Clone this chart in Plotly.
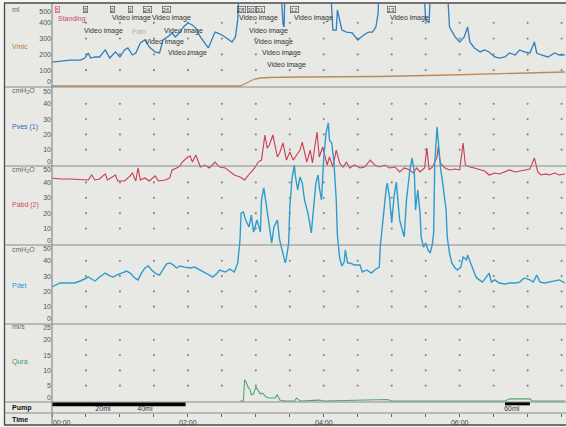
import numpy as np
import plotly.graph_objects as go

FONT = "Liberation Sans, Arial, sans-serif"

# ---------------- data (time in seconds) ----------------
vmic_samples = [(0, 0), (166, 0), (170, 12.7), (175, 31.6), (179, 44.3), (184, 50.6),
                (192, 53.8), (219, 57), (289, 60), (351, 69.6), (395, 76), (453, 88.6)]

pves_samples = [(0, 67.3), (7, 68), (16, 68.6), (25, 68.6), (29, 69.9), (32, 73.2), (34, 69.9), (38, 70.6),
                (42, 70.6), (47, 75.2), (51, 69.9), (56, 73.9), (60, 70.6), (64, 75.2), (67, 76.5), (71, 71.9),
                (74, 73.2), (78, 79.7), (82, 81.7), (86, 77.1), (91, 73.9), (95, 73.2), (98, 81.7), (102, 83.7),
                (106, 86.3), (109, 83.7), (113, 86.9), (116, 90.2), (120, 92.8), (124, 91.5), (127, 89.5),
                (131, 83.7), (135, 79.7), (138, 76.5), (141, 81.7), (144, 86.9), (146, 86.3), (150, 85),
                (154, 83), (159, 80.4), (162, 83.7), (164, 95), (166, 130), (185, 130), (201, 130), (204, 92),
                (205, 90.2), (206, 130), (225, 130), (245, 130), (248, 88.2), (251, 88.2), (252, 101.3),
                (256, 88.2), (260, 86.9), (265, 86.3), (270, 81.7), (273, 83.7), (278, 86.3), (280, 86.9),
                (283, 86.9), (286, 90.2), (288, 99.3), (289, 130), (310, 130), (327, 130), (330, 94.8),
                (333, 93), (335, 130), (348, 130), (351, 90.2), (356, 83.7), (360, 80.4), (364, 83.7),
                (367, 90.2), (369, 80.4), (373, 76.5), (378, 73.9), (382, 75.2), (386, 73.9), (391, 70.6),
                (395, 69.9), (400, 70.6), (404, 73.2), (409, 71.9), (413, 75.2), (417, 73.9), (422, 73.2),
                (426, 80.4), (428, 73.2), (432, 71.9), (438, 70.6), (444, 73.2), (448, 71.9), (453, 72)]

pabd_samples = [(0, 42.9), (7, 42.2), (16, 42.2), (25, 41.6), (32, 41.6), (35, 44.8), (38, 41.6), (42, 42.2),
                (47, 45.5), (49, 41.6), (56, 44.8), (58, 40.9), (64, 40.9), (69, 44.2), (71, 46.1), (74, 40.9),
                (76, 49.4), (78, 41.6), (82, 42.9), (86, 40.9), (91, 44.2), (94, 40.9), (100, 41.6), (104, 42.9),
                (106, 48.1), (110, 49.4), (113, 50.6), (115, 53.2), (117, 54.5), (120, 56.5), (122, 57.1),
                (124, 53.2), (127, 57.8), (131, 50), (135, 51.3), (139, 49.4), (144, 53.2), (148, 50),
                (153, 49.4), (157, 46.8), (161, 44.8), (166, 43.5), (170, 41.6), (175, 46.1), (179, 49.4),
                (182, 53.2), (185, 54.5), (188, 70.8), (190, 62.3), (192, 64.3), (195, 70.8), (199, 56.5),
                (201, 59.1), (204, 65.6), (207, 54.5), (210, 59.7), (213, 54.5), (216, 57.8), (219, 61),
                (221, 66.2), (225, 53.2), (228, 61), (230, 52.6), (234, 72.7), (236, 56.5), (239, 63),
                (243, 51.3), (245, 56.5), (248, 50), (251, 61), (254, 52.6), (257, 50), (260, 53.2),
                (263, 49.4), (267, 51.3), (272, 49.4), (276, 50), (281, 54.5), (285, 51.3), (289, 50),
                (294, 51.3), (298, 49.4), (303, 50), (307, 46.8), (311, 49.4), (316, 48.1), (319, 46.1),
                (322, 49.4), (325, 46.8), (329, 49.4), (331, 62.3), (333, 48.1), (336, 50), (340, 56.5),
                (341, 63), (343, 52.6), (347, 49.4), (351, 48.1), (356, 48.7), (360, 48.1), (363, 65.6),
                (365, 51.3), (369, 50), (373, 49.4), (378, 48.1), (382, 47.4), (386, 44.8), (391, 46.1),
                (395, 45.5), (400, 46.8), (404, 48.1), (409, 46.8), (413, 47.4), (417, 48.1), (422, 48.7),
                (426, 55.8), (429, 46.8), (432, 44.8), (436, 45.5), (439, 44.8), (444, 46.1), (448, 44.8),
                (453, 45.5)]

pdet_samples = [(0, 22.9), (4, 24.2), (7, 25.5), (11, 25.5), (16, 25.5), (20, 25.5), (25, 26.8), (29, 28.1),
                (32, 29.4), (35, 28.1), (38, 26.8), (42, 29.4), (47, 32), (51, 30.1), (54, 29.4), (57, 30.7),
                (62, 32), (66, 33.3), (69, 32), (73, 28.8), (76, 27.5), (79, 32), (82, 35.3), (85, 36.6),
                (88, 34), (91, 32), (95, 30.7), (98, 34), (101, 37.9), (104, 38.6), (107, 37.3), (110, 35.3),
                (113, 36.6), (117, 35.9), (122, 35.3), (126, 35.9), (131, 34), (135, 32.7), (139, 30.7),
                (142, 29.4), (146, 32), (148, 34), (153, 32.7), (157, 34.6), (161, 32.7), (164, 38.6),
                (166, 53.6), (167, 71.2), (169, 71.9), (171, 66.7), (174, 62.1), (176, 69.9), (178, 58.8),
                (181, 66.7), (184, 58.8), (185, 79.7), (187, 87.6), (189, 77.8), (191, 66.7), (193, 55.6),
                (194, 51.6), (196, 62.1), (199, 66.7), (201, 53.6), (204, 45.1), (206, 38.6), (207, 41.8),
                (209, 51.6), (210, 75.2), (212, 94.1), (214, 102.6), (215, 94.8), (217, 86.3), (219, 94.8),
                (221, 90.8), (223, 79.7), (226, 71.2), (229, 58.2), (230, 66.7), (233, 90.8), (235, 96.1),
                (236, 88.2), (238, 79.7), (240, 107.8), (242, 123.5), (244, 130.1), (245, 119), (247, 117),
                (249, 103.9), (251, 79.7), (252, 56.9), (254, 41.8), (256, 36.6), (258, 39.2), (259, 47.1),
                (261, 38.6), (263, 38.6), (267, 37.3), (272, 37.3), (274, 32.7), (278, 34), (282, 32),
                (285, 34), (289, 35.9), (290, 50.3), (292, 66.7), (295, 86.3), (296, 90.8), (298, 81.7),
                (300, 64.7), (302, 81.7), (304, 91.5), (305, 84.3), (307, 66.7), (310, 58.2), (311, 55.6),
                (313, 79.7), (316, 99.3), (318, 107.2), (320, 97.4), (321, 73.2), (323, 86.3), (325, 71.2),
                (326, 55.6), (328, 49), (330, 51.6), (332, 47.1), (334, 45.1), (336, 51.6), (337, 58.2),
                (338, 103.9), (340, 127.5), (341, 119), (343, 101.3), (345, 90.8), (348, 73.2), (349, 55.6),
                (351, 45.1), (353, 38.6), (356, 35.3), (358, 34), (361, 35.9), (363, 42.5), (366, 40.5),
                (367, 43.8), (370, 37.3), (373, 32), (375, 28.8), (378, 27.5), (380, 26.1), (383, 28.8),
                (386, 32), (388, 26.1), (391, 27.5), (395, 25.5), (400, 24.8), (404, 25.5), (409, 25.5),
                (413, 26.1), (417, 28.8), (422, 27.5), (425, 26.1), (428, 30.7), (431, 26.1), (435, 25.5),
                (439, 26.1), (444, 26.8), (448, 27.5), (453, 25.5)]

qura_samples = [(166, 0), (169, 0), (170, 6.9), (171, 6.5), (173, 4.6), (175, 3.6), (176, 2), (178, 2.3),
                (180, 4.6), (182, 3.3), (184, 2.3), (186, 2.6), (189, 1.3), (192, 1), (197, 1), (199, 2),
                (201, 0.3), (206, 0), (214, 0), (216, 1), (219, 0), (236, 0.3), (240, 0), (296, 0.5),
                (300, 0), (400, 0), (404, 0.7), (422, 0.7), (424, 0), (453, 0)]

pump_runs = [(0, 118), (400, 422)]
pump_mark_t = [45, 82, 406]
pump_mark_text = ["20ml", "40ml", "60ml"]

time_tick_vals = [0, 120, 240, 360]
time_tick_text = ["00:00", "02:00", "04:00", "06:00"]

# event texts: (text, time s, row pixel)
event_texts = [("Standing", 3.5, 19), ("Video image", 51, 18), ("Video image", 86.5, 18),
               ("Video image", 26.5, 31), ("Pain", 69, 31), ("Video image", 97, 31),
               ("Video image", 80, 42), ("Video image", 101, 53),
               ("Video image", 163, 18), ("Video image", 212, 18), ("Video image", 172, 31),
               ("Video image", 177, 42), ("Video image", 184, 53), ("Video image", 188, 65),
               ("Video image", 297, 18)]
event_marks = [("5", 2.6), ("3", 27), ("2", 51), ("1", 67), ("24", 80), ("26", 97),
               ("28", 163), ("30", 172), ("31", 180), ("12", 210), ("13", 296)]

# ---------------- styling / geometry ----------------
W, H = 566, 427
L, R, T, B = 52, 565, 3, 425
XMAX = 453
def fx(px): return (px - L) / (R - L)
def fy(py): return (B - py) / (B - T)
DATA_TOP, DATA_BOT = 4, 402

C_VMIC, C_PVES, C_PABD, C_PDET, C_QURA = "#c08a55", "#2f7fc0", "#cc3a50", "#2e9ccf", "#4fa66c"
GRID_C, SEP_C, TXT_C = "#8c8c8c", "#8a8a8a", "#555555"

panels = [
    dict(name="Vmic", unit="ml", color="#b87a3e", z=86, m=7, vmax=500, step=100, off=4.5, uy=9, ny=47),
    dict(name="Pves (1)", unit="cmH<sub>2</sub>O", color="#1f6fb8", z=165, m=88.5, vmax=50, step=10, off=3, uy=91, ny=127),
    dict(name="Pabd (2)", unit="cmH<sub>2</sub>O", color="#d04a5c", z=244, m=167, vmax=50, step=10, off=3, uy=170, ny=205),
    dict(name="Pdet", unit="cmH<sub>2</sub>O", color="#2a9ad2", z=322, m=245.5, vmax=50, step=10, off=3.5, uy=250, ny=285),
    dict(name="Qura", unit="ml/s", color="#3f9a5f", z=401, m=324.5, vmax=25, step=5, off=3.5, uy=326, ny=362),
]
axis_ids = ["y", "y2", "y3", "y4", "y5"]

fig = go.Figure()

# grid dots
xdots = np.arange(30, XMAX, 30)
for p, aid in zip(panels, axis_ids):
    yv = np.arange(p["step"], p["vmax"], p["step"])
    gx, gy = np.meshgrid(xdots, yv)
    fig.add_trace(go.Scatter(x=gx.ravel(), y=gy.ravel(), mode="markers", yaxis=aid,
                             marker=dict(size=2.2, color=GRID_C), hoverinfo="skip", showlegend=False))

def add_line(samples, aid, color, width=1.2):
    t, v = zip(*samples)
    fig.add_trace(go.Scatter(x=list(t), y=list(v), mode="lines", yaxis=aid,
                             line=dict(color=color, width=width), showlegend=False))

add_line(vmic_samples, "y", C_VMIC, 1.3)
add_line(pabd_samples, "y3", C_PABD, 1.1)
add_line(pves_samples, "y2", C_PVES, 1.3)
add_line(pdet_samples, "y4", C_PDET, 1.4)
add_line(qura_samples, "y5", C_QURA, 1.1)

# pump row
for (a, b), lvl in zip(pump_runs, [0.8, 0.88]):
    fig.add_trace(go.Scatter(x=[a, b], y=[lvl, lvl], mode="lines", yaxis="y6",
                             line=dict(color="#000000", width=4), showlegend=False))
fig.add_trace(go.Scatter(x=pump_mark_t, y=[0.3] * len(pump_mark_t), mode="text", yaxis="y6",
                         text=pump_mark_text, textfont=dict(size=7, color="#333", family=FONT),
                         cliponaxis=False, showlegend=False))

layout_axes = {}
for i, (p, aid) in enumerate(zip(panels, axis_ids)):
    s = (p["z"] - p["m"]) / p["vmax"]
    lo = -(DATA_BOT - p["z"]) / s
    hi = (p["z"] - DATA_TOP) / s
    vals = list(np.arange(0, p["vmax"] + p["step"], p["step"]))
    tv = [float(v) for v in vals]
    tv[0] += p["off"] / s
    tv[-1] -= p["off"] / s
    ax = dict(range=[lo, hi], domain=[fy(DATA_BOT), fy(DATA_TOP)], tickmode="array",
              tickvals=tv, ticktext=[str(int(v)) for v in vals], showgrid=False, zeroline=False,
              showline=False, ticks="", tickfont=dict(size=7, color=TXT_C, family=FONT),
              anchor="x", fixedrange=True)
    if i > 0:
        ax["overlaying"] = "y"
    key = "yaxis" if i == 0 else "yaxis%d" % (i + 1)
    layout_axes[key] = ax

layout_axes["yaxis6"] = dict(domain=[fy(413), fy(402)], range=[0, 1], anchor="x",
                             showticklabels=False, showgrid=False, zeroline=False, showline=False)

time_text = list(time_tick_text)
time_text[0] = "\u00a0" * 10 + time_text[0]

fig.update_layout(
    width=W, height=H, autosize=False,
    margin=dict(l=L, r=W - R, t=T, b=H - B, pad=0),
    paper_bgcolor="#f4f4f2", plot_bgcolor="rgba(0,0,0,0)",
    font=dict(family=FONT, size=7, color=TXT_C),
    showlegend=False,
    xaxis=dict(range=[0, XMAX], domain=[0, 1], anchor="free", position=fy(413), side="bottom",
               tickmode="array", tickvals=time_tick_vals, ticktext=time_text,
               ticks="outside", ticklen=3, tickcolor="#666", tickwidth=1,
               minor=dict(tickmode="array", tickvals=list(range(30, XMAX, 30)), ticks="outside",
                          ticklen=3, tickcolor="#666"),
               tickfont=dict(size=7, color="#444", family=FONT),
               showgrid=False, zeroline=False, showline=False, fixedrange=True),
    **layout_axes,
)

shapes = []
# background frame
shapes.append(dict(type="rect", xref="paper", yref="paper", x0=fx(4), x1=fx(568), y0=fy(425), y1=fy(3),
                   fillcolor="#e8e9e4", line=dict(width=0), layer="below"))
for py in [87, 166, 245, 324, 402, 413]:
    shapes.append(dict(type="line", xref="paper", yref="paper", x0=fx(4), x1=fx(568), y0=fy(py), y1=fy(py),
                       line=dict(color=SEP_C, width=1.2), layer="above"))
shapes.append(dict(type="line", xref="paper", yref="paper", x0=0, x1=0, y0=fy(425), y1=fy(3),
                   line=dict(color=SEP_C, width=1.2)))
shapes.append(dict(type="rect", xref="paper", yref="paper", x0=fx(4.5), x1=fx(570), y0=fy(425), y1=fy(3),
                   line=dict(color="#4a4a4a", width=1.3), fillcolor="rgba(0,0,0,0)"))
fig.update_layout(shapes=shapes)

ann = []
for p in panels:
    ann.append(dict(xref="paper", yref="paper", x=fx(10), y=fy(p["uy"]), text=p["unit"], showarrow=False,
                    xanchor="left", yanchor="middle", font=dict(size=7, color="#666", family=FONT)))
    ann.append(dict(xref="paper", yref="paper", x=fx(10), y=fy(p["ny"]), text=p["name"], showarrow=False,
                    xanchor="left", yanchor="middle", font=dict(size=7, color=p["color"], family=FONT)))
for txt, py in [("<b>Pump</b>", 407.5), ("<b>Time</b>", 419)]:
    ann.append(dict(xref="paper", yref="paper", x=fx(10), y=fy(py), text=txt, showarrow=False,
                    xanchor="left", yanchor="middle", font=dict(size=7, color="#111", family=FONT)))
for txt, t, py in event_texts:
    col = "#d04a60" if txt == "Standing" else ("#b0b0b0" if txt == "Pain" else "#333")
    ann.append(dict(xref="x", yref="paper", x=t, y=fy(py), text=txt, showarrow=False,
                    xanchor="left", yanchor="middle", font=dict(size=7, color=col, family=FONT)))
for i, (txt, t) in enumerate(event_marks):
    col = "#d04a60" if i == 0 else "#444"
    ann.append(dict(xref="x", yref="paper", x=t, y=fy(9), text=txt, showarrow=False,
                    xanchor="left", yanchor="middle", bordercolor=col, borderwidth=0.6, borderpad=0,
                    font=dict(size=6, color=col, family=FONT)))
fig.update_layout(annotations=ann)

fig.write_html("out.html", config={"displayModeBar": False},
               post_script="document.body.style.margin='0';document.body.style.overflow='hidden';")
